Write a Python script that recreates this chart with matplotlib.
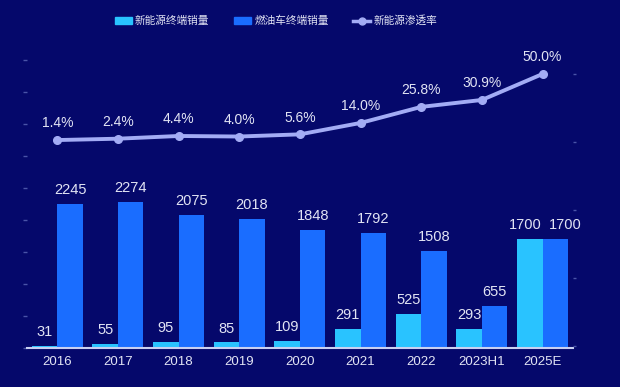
import matplotlib
matplotlib.use('Agg')
import matplotlib.pyplot as plt
import numpy as np
from matplotlib.lines import Line2D
from matplotlib.patches import Patch

plt.rcParams['font.family'] = ['Liberation Sans', 'Noto Sans CJK SC', 'DejaVu Sans']

# データ
years = ['2016', '2017', '2018', '2019', '2020', '2021', '2022', '2023H1', '2025E']
nev_sales = [31, 55, 95, 85, 109, 291, 525, 293, 1700]        # 新能源终端销量
fuel_sales = [2245, 2274, 2075, 2018, 1848, 1792, 1508, 655, 1700]  # 燃油车终端销量
nev_rate = [1.4, 2.4, 4.4, 4.0, 5.6, 14.0, 25.8, 30.9, 50.0]  # 新能源渗透率 (%)

bg = '#05086b'
c_nev = '#29c3ff'
c_fuel = '#1a6dff'
c_line = '#a3acf5'
c_text = '#e2e4f4'
c_tick = '#4a54a8'

fig = plt.figure(figsize=(6.2, 3.87), dpi=100, facecolor=bg)
ax = fig.add_axes([0.0435, 0.101, 0.8805, 0.744])
ax.set_facecolor(bg)

x = np.arange(len(years))
w = 0.42
b1 = ax.bar(x - w / 2, nev_sales, width=w, color=c_nev, zorder=2)
b2 = ax.bar(x + w / 2, fuel_sales, width=w, color=c_fuel, zorder=2)

# 2本とも同じ高さのときはラベルを左右にずらす
for rect, v, v2 in zip(b1, nev_sales, fuel_sales):
    dx = -3 if v == v2 else 0
    ax.annotate(str(v), (rect.get_x() + rect.get_width() / 2, rect.get_height()),
                xytext=(dx, 5), textcoords='offset points', ha='center', va='bottom',
                color=c_text, fontsize=10.5)
for rect, v, v1 in zip(b2, fuel_sales, nev_sales):
    dx = 7 if v == v1 else 0
    ax.annotate(str(v), (rect.get_x() + rect.get_width() / 2, rect.get_height()),
                xytext=(dx, 5), textcoords='offset points', ha='center', va='bottom',
                color=c_text, fontsize=10.5)

ax.set_xlim(-0.5, len(years) - 0.5)
ax.set_ylim(0, 4500)
ax.set_yticks(np.arange(0, 4501, 500))
ax.set_yticklabels([])
ax.set_xticks(x)
ax.set_xticklabels(years, color=c_text, fontsize=9.5)
ax.tick_params(axis='x', length=0, pad=6)
ax.tick_params(axis='y', length=3, width=1, color=c_tick)
for s in ['top', 'right', 'left']:
    ax.spines[s].set_visible(False)
ax.spines['bottom'].set_color('#c9d0f2')
ax.spines['bottom'].set_linewidth(1.5)

# 渗透率 (右軸)
ax2 = ax.twinx()
ax2.set_ylim(-151.5, 60.3)
ax2.set_yticks(np.arange(-150, 51, 50))
ax2.set_yticklabels([])
ax2.tick_params(axis='y', length=2, width=1, color=c_tick)
for s in ax2.spines.values():
    s.set_visible(False)
ax2.plot(x, nev_rate, color=c_line, linewidth=2.8, marker='o', markersize=5.5, zorder=3)
for xi, v in zip(x, nev_rate):
    ax2.annotate(f'{v:.1f}%', (xi, v), xytext=(0, 7), textcoords='offset points',
                 ha='center', va='bottom', color=c_text, fontsize=10)

# 凡例
handles = [Patch(color=c_nev), Patch(color=c_fuel),
           Line2D([0], [0], color=c_line, linewidth=2.5, marker='o', markersize=5)]
labels = ['新能源终端销量', '燃油车终端销量', '新能源渗透率']
fig.legend(handles, labels, loc='center', bbox_to_anchor=(0.445, 0.946), ncol=3,
           frameon=False, labelcolor=c_text, handlelength=1.6,
           handleheight=0.6, handletextpad=0.3, columnspacing=2.3,
           prop={'family': ['Noto Sans CJK SC', 'DejaVu Sans'], 'size': 7.7})

fig.savefig('out.png', dpi=100, facecolor=bg)
